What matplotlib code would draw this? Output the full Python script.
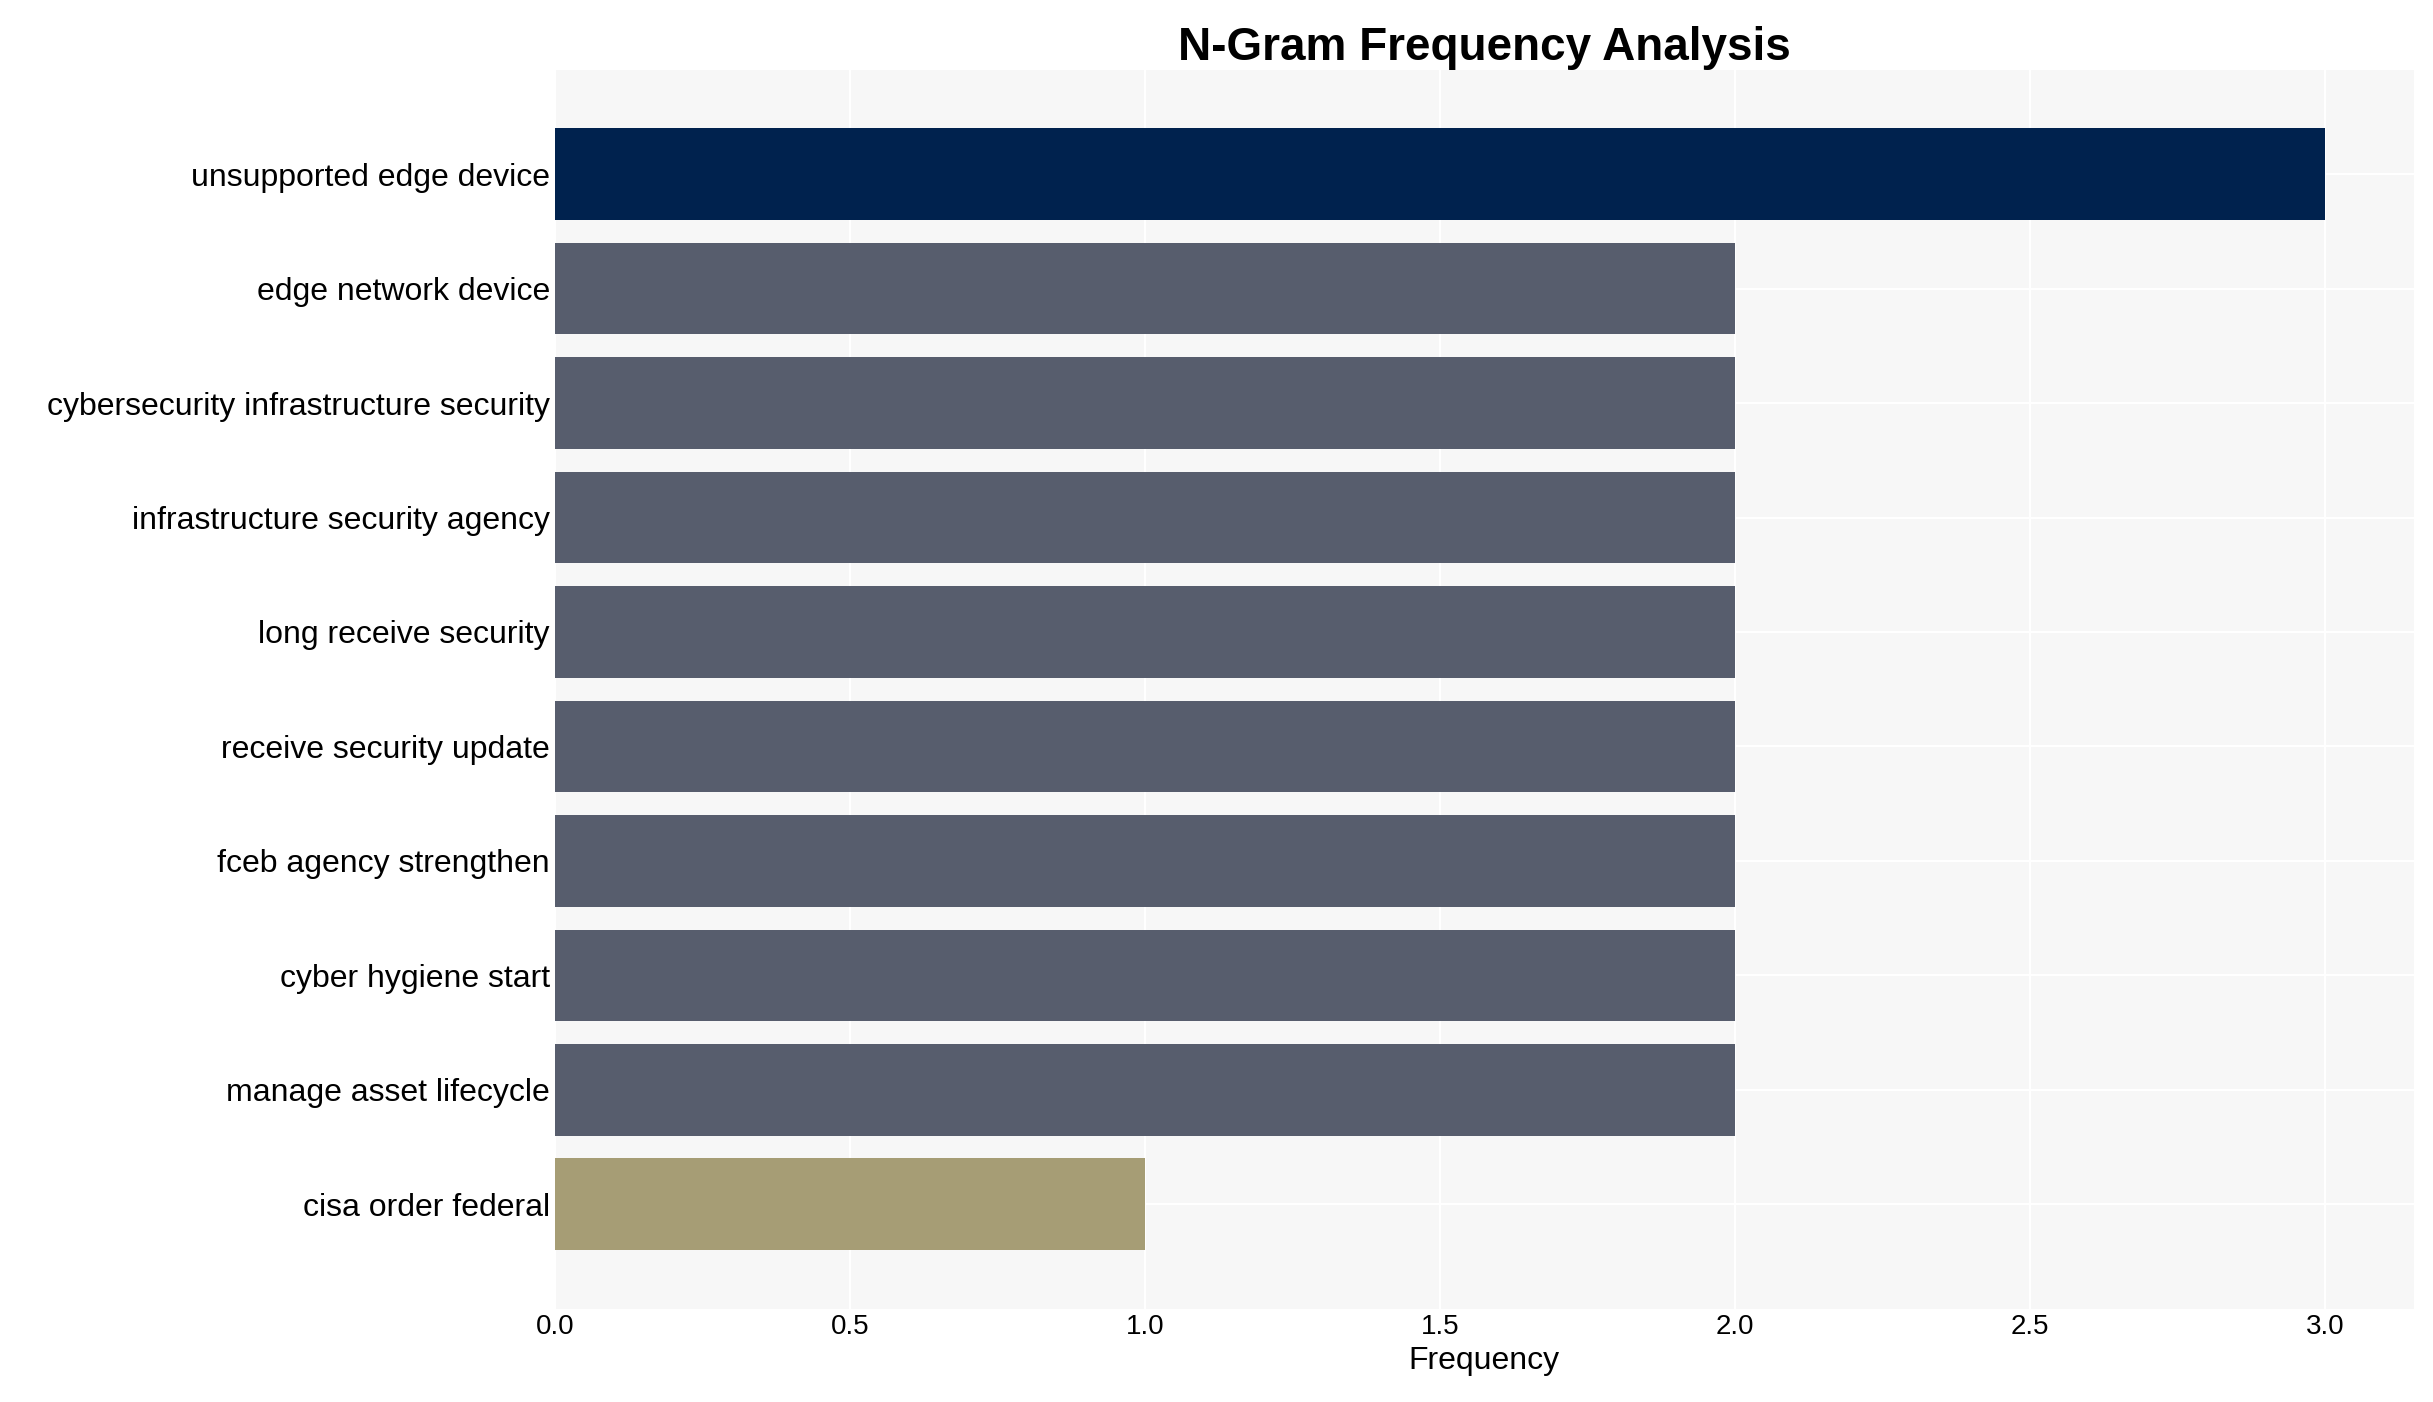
import matplotlib
matplotlib.use("Agg")
import matplotlib.pyplot as plt

labels = ["unsupported edge device", "edge network device", "cybersecurity infrastructure security",
          "infrastructure security agency", "long receive security", "receive security update",
          "fceb agency strengthen", "cyber hygiene start", "manage asset lifecycle", "cisa order federal"]
values = [3, 2, 2, 2, 2, 2, 2, 2, 2, 1]
colors = ["#00224e"] + ["#575d6d"] * 8 + ["#a69d75"]

plt.rcParams['font.family'] = ['Liberation Sans', 'DejaVu Sans']
fig = plt.figure(figsize=(24.33, 14.02), dpi=100)
ax = fig.add_axes([0.228, 0.066, 0.764, 0.884])
ax.set_facecolor("#f7f7f7")
y = list(range(len(labels)))
ax.barh(y, values, color=colors, height=0.8, zorder=3)
ax.set_yticks(y)
ax.set_yticklabels(labels, fontsize=23)
ax.set_xlim(0, 3.15)
ax.set_ylim(len(labels) - 1 + 0.92, -0.91)
ax.set_xticks([0, 0.5, 1, 1.5, 2, 2.5, 3])
ax.set_xticklabels(["0.0", "0.5", "1.0", "1.5", "2.0", "2.5", "3.0"], fontsize=20)
ax.grid(True, color="white", linewidth=1.5, zorder=0)
ax.tick_params(length=0, which="both")
for s in ax.spines.values():
    s.set_visible(False)
ax.set_xlabel("Frequency", fontsize=23)
ax.set_title("N-Gram Frequency Analysis", fontsize=33, fontweight="bold", pad=4)
fig.savefig("out.png", dpi=100)
